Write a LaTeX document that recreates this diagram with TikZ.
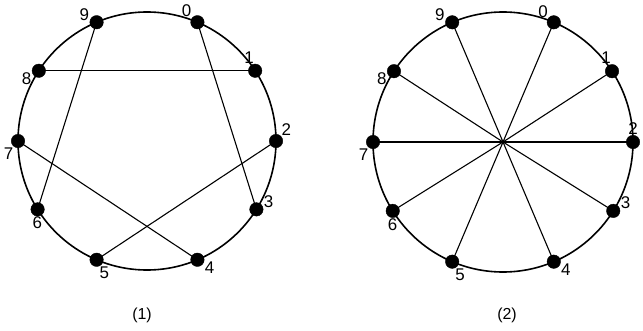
\documentclass[tikz,border=0pt]{standalone}
\usepackage{fontspec}
\setmainfont{Liberation Sans}
\usetikzlibrary{calc}
\begin{document}
\begin{tikzpicture}[x=1bp,y=1bp,
  vdot/.style={circle,fill=black,draw=black,minimum size=13.5bp,inner sep=0pt},
  ring/.style={line width=1.6bp},
  chord/.style={line width=1.1bp},
  lbl/.style={font=\fontsize{17}{17}\selectfont,inner sep=0.5bp},
  captext/.style={font=\fontsize{16}{16}\selectfont}]
\useasboundingbox (0,0) rectangle (643,330);
% centres
\coordinate (cl) at (147,189);
\coordinate (cr) at (503,188);
\draw[ring] (cl) circle (129);
\draw[ring] (cr) circle (130);
% vertices: index/angle/label angle
\foreach \i/\a/\la in {0/67/140,1/33/95,2/0/45,3/-32/10,4/-67/-15,5/-113/-70,6/-148/-92,7/180/-125,8/147/190,9/113/172}{
  \node[vdot,label={[lbl,label distance=0bp]\la:\i}] (L\i) at ($(cl)+(\a:129)$) {};
}
\foreach \i/\a/\la in {0/67/140,1/33/95,3/-32/10,4/-67/-15,5/-113/-70,6/-148/-92,7/180/-125,8/147/190,9/113/172}{
  \node[vdot,label={[lbl,label distance=0bp]\la:\i}] (R\i) at ($(cr)+(\a:130)$) {};
}
\node[vdot,label={[lbl,label distance=0bp]90:2}] (R2) at ($(cr)+(0:130)$) {};
% chords left
\draw[chord] (L0.center) -- (L3.center);
\draw[chord] (L1.center) -- (L8.center);
\draw[chord] (L2.center) -- (L5.center);
\draw[chord] (L4.center) -- (L7.center);
\draw[chord] (L6.center) -- (L9.center);
% spokes right
\foreach \i in {0,...,9}{\draw[chord] (cr) -- (R\i.center);}
\node[captext] (c1) at (142,15) {(1)};
\node[captext] (c2) at (507,15) {(2)};
\end{tikzpicture}
\end{document}
